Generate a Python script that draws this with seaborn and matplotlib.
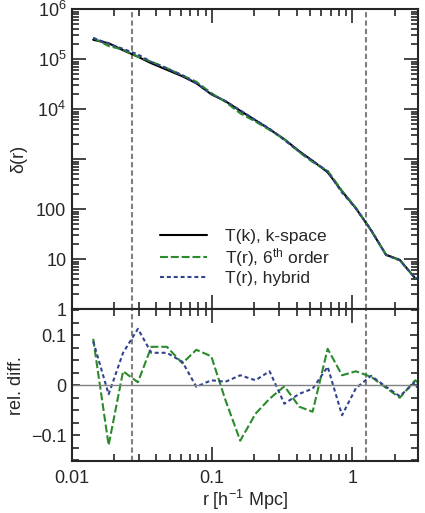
import matplotlib
matplotlib.use("Agg")
import matplotlib.pyplot as plt
import matplotlib.ticker as mticker
import numpy as np
import pandas as pd
import seaborn as sns

# separation r [h^-1 Mpc]
r = [0.0142, 0.0183, 0.0232, 0.0296, 0.0369, 0.0476, 0.0614, 0.0772, 0.0987,
     0.1247, 0.1588, 0.204, 0.257, 0.328, 0.419, 0.521, 0.667, 0.845, 1.06,
     1.36, 1.74, 2.18, 2.81, 3.59]

# log10 delta(r) for the k-space transfer function
log_delta_k = [5.39, 5.32, 5.18, 5.05, 4.92, 4.79, 4.66, 4.52, 4.30, 4.16,
               3.97, 3.78, 3.60, 3.40, 3.16, 2.97, 2.74, 2.36, 2.02, 1.58,
               1.09, 0.99, 0.62, 0.58]

# relative differences w.r.t. T(k)
rel_6th = [0.093, -0.120, 0.028, 0.006, 0.077, 0.077, 0.044, 0.071, 0.058,
           -0.030, -0.111, -0.057, -0.027, -0.002, -0.043, -0.053, 0.073,
           0.020, 0.028, 0.017, -0.005, -0.025, 0.010, -0.015]
rel_hybrid = [0.088, -0.018, 0.065, 0.113, 0.065, 0.065, 0.047, -0.003, 0.010,
              0.007, 0.020, 0.010, 0.028, -0.037, -0.017, -0.007, 0.037,
              -0.060, -0.006, 0.019, -0.003, -0.022, 0.007, -0.090]

r_limits = [0.027, 1.25]

ytick_vals = [1, 10, 100, 1e3, 1e4, 1e5, 1e6]
ytick_labels = ["1", "10", "100", "", "$10^4$", "$10^5$", "$10^6$"]

labels = ["T(k), k-space", "T(r), 6$^{\\rm th}$ order", "T(r), hybrid"]
colors = ["black", "#2b8a2b", "#34448c"]
styles = ["-", (0, (3.8, 1.4)), (0, (1.9, 1.4))]

delta_k = 10 ** np.array(log_delta_k)
df = pd.DataFrame({
    "r": r,
    "k": delta_k,
    "sixth": delta_k * (1 + np.array(rel_6th)),
    "hybrid": delta_k * (1 + np.array(rel_hybrid)),
    "rel_sixth": rel_6th,
    "rel_hybrid": rel_hybrid,
})

sns.set_style("ticks")
plt.rcParams["font.family"] = ["Liberation Sans", "DejaVu Sans"]
plt.rcParams["mathtext.fontset"] = "custom"
plt.rcParams["mathtext.rm"] = "Liberation Sans"
plt.rcParams["mathtext.it"] = "Liberation Sans"
plt.rcParams["font.size"] = 13

fig = plt.figure(figsize=(4.25, 5.13), dpi=100)
ax1 = fig.add_axes([0.169, 0.397, 0.815, 0.585])
ax2 = fig.add_axes([0.169, 0.101, 0.815, 0.296], sharex=ax1)

for col, lab, c, ls in zip(["k", "sixth", "hybrid"], labels, colors, styles):
    sns.lineplot(data=df, x="r", y=col, ax=ax1, color=c, lw=1.5,
                 linestyle=ls, label=lab)

for col, c, ls in zip(["rel_sixth", "rel_hybrid"], colors[1:], styles[1:]):
    sns.lineplot(data=df, x="r", y=col, ax=ax2, color=c, lw=1.5, linestyle=ls)

ax2.axhline(0, color="gray", lw=1)
for ax in (ax1, ax2):
    for xv in r_limits:
        ax.axvline(xv, color="gray", lw=1.5, ls=(0, (2.5, 1.5)), zorder=0)

ax1.set_xscale("log")
ax1.set_yscale("log")
ax1.set_xlim(0.01, 2.95)
ax1.set_ylim(1, 1e6)
ax2.set_ylim(-0.152, 0.152)

ax1.yaxis.set_major_locator(mticker.FixedLocator(ytick_vals))
ax1.yaxis.set_major_formatter(mticker.FixedFormatter(ytick_labels))
ax1.yaxis.set_minor_locator(mticker.LogLocator(base=10, subs=np.arange(2, 10)))
ax1.yaxis.set_minor_formatter(mticker.NullFormatter())
ax1.tick_params(axis="x", labelbottom=False)

ax2.xaxis.set_major_locator(mticker.FixedLocator([0.01, 0.1, 1]))
ax2.xaxis.set_major_formatter(mticker.FixedFormatter(["0.01", "0.1", "1"]))
ax2.xaxis.set_minor_locator(mticker.LogLocator(base=10, subs=np.arange(2, 10)))
ax2.xaxis.set_minor_formatter(mticker.NullFormatter())
ax2.yaxis.set_major_locator(mticker.FixedLocator([-0.1, 0, 0.1]))
ax2.yaxis.set_major_formatter(mticker.FixedFormatter(["\u22120.1", "0", "0.1"]))
ax2.yaxis.set_minor_locator(mticker.MultipleLocator(0.025))

for ax in (ax1, ax2):
    ax.tick_params(which="both", direction="in", top=True, right=True,
                   labelsize=13, width=1.2, pad=4)
    ax.tick_params(which="major", length=10)
    ax.tick_params(which="minor", length=5)
    for s in ax.spines.values():
        s.set_linewidth(1.5)
ax2.tick_params(axis="y", which="major", length=6)
ax2.tick_params(axis="x", pad=6)

ax1.set_ylabel("δ(r)", fontsize=13, labelpad=6)
ax1.set_xlabel("")
ax2.set_ylabel("rel. diff.", fontsize=13, labelpad=4)
ax2.set_xlabel("r [h$^{-1}$ Mpc]", fontsize=13, labelpad=1)

ax1.legend(loc="lower center", bbox_to_anchor=(0.5, 0.025), frameon=False,
           fontsize=12.5, handlelength=2.7, handletextpad=1.0,
           labelspacing=0.12)

fig.savefig("out.png", dpi=100)
